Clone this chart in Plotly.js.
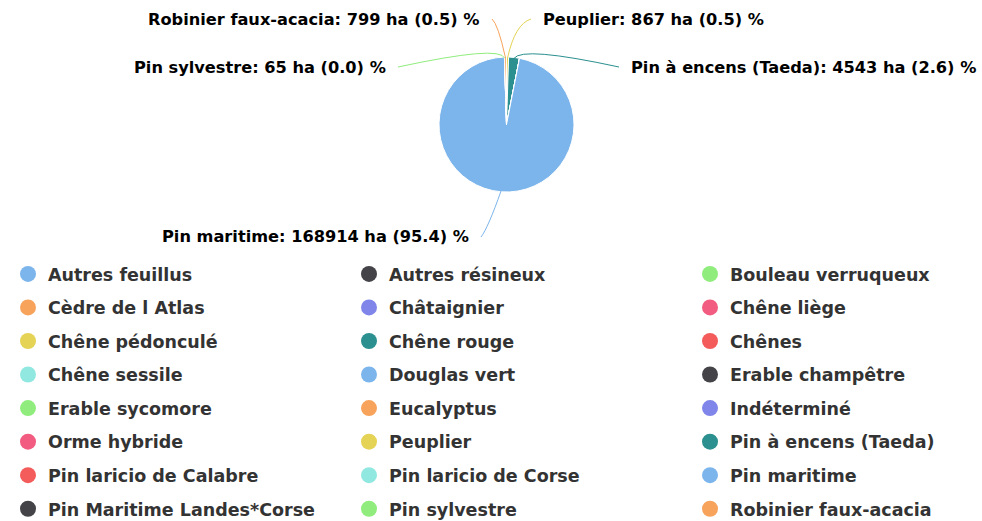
<!DOCTYPE html>
<html>
<head>
<meta charset="utf-8">
<script src="https://cdn.plot.ly/plotly-3.0.1.min.js"></script>
<style>
  html, body { margin: 0; padding: 0; background: #fff; }
  #chart { width: 982px; height: 521px; }
</style>
</head>
<body>
<div id="chart"></div>
<script>
// Species (legend order, row by row)
const species = [
  "Autres feuillus", "Autres résineux", "Bouleau verruqueux",
  "Cèdre de l Atlas", "Châtaignier", "Chêne liège",
  "Chêne pédonculé", "Chêne rouge", "Chênes",
  "Chêne sessile", "Douglas vert", "Erable champêtre",
  "Erable sycomore", "Eucalyptus", "Indéterminé",
  "Orme hybride", "Peuplier", "Pin à encens (Taeda)",
  "Pin laricio de Calabre", "Pin laricio de Corse", "Pin maritime",
  "Pin Maritime Landes*Corse", "Pin sylvestre", "Robinier faux-acacia",
];

// Surface in ha (only labelled slices are readable)
const hectares = [
  0, 0, 0,
  0, 0, 0,
  0, 0, 0,
  0, 0, 0,
  0, 0, 0,
  0, 867, 4543,
  0, 0, 168914,
  0, 65, 799,
];

// Percent shown in the labels
const shares = [
  null, null, null,
  null, null, null,
  null, null, null,
  null, null, null,
  null, null, null,
  null, "0.5", "2.6",
  null, null, "95.4",
  null, "0.0", "0.5",
];

const palette = ["#7cb5ec", "#434348", "#90ed7d", "#f7a35c", "#8085e9",
                 "#f15c80", "#e4d354", "#2b908f", "#f45b5b", "#91e8e1"];
const colors = species.map((s, i) => palette[i % palette.length]);

// Geometry of the chart (pixels)
const W = 982, H = 521;
const cx = 506.5, cy = 124.5, r = 66.5;
const px = x => x / W;
const py = y => 1 - y / H;

// Where each label sits: [text x, text y, anchor, knee x, knee y]
const labelPos = {
  16: [541, 19, "left", 515, 24],
  17: [629, 67, "left", 522, 46],
  20: [471, 237, "right", 488, 228],
  22: [388, 67, "right", 500, 45],
  23: [482, 19, "right", 498, 24],
};

const fontFamily = "'DejaVu Sans', Verdana, sans-serif";

// Pie slices
const pieTrace = {
  type: "pie",
  labels: species,
  values: hectares,
  marker: { colors: colors, line: { color: "#ffffff", width: 1 } },
  sort: false,
  direction: "clockwise",
  rotation: 0,
  textinfo: "none",
  hovertemplate: "%{label}: %{value} ha<extra></extra>",
  showlegend: false,
  domain: { x: [px(cx - r - 1), px(cx + r + 1)], y: [py(cy + r + 1), py(cy - r - 1)] },
  automargin: false,
};

// Legend entries drawn as round markers, 3 columns
const legendNames = ["legend", "legend2", "legend3"];
const legendTraces = species.map((s, i) => ({
  type: "scatter",
  mode: "markers",
  x: [null],
  y: [null],
  name: s,
  legend: legendNames[i % 3],
  legendgroup: "g" + i,
  marker: { color: colors[i], size: 16, symbol: "circle" },
  hoverinfo: "skip",
}));

// Labels and connectors from the slice angles
const total = hectares.reduce((a, b) => a + b, 0);
const annotations = [];
const shapes = [];
let cum = 0;
hectares.forEach((v, i) => {
  const start = cum;
  cum += v;
  if (!v || !labelPos[i]) return;
  const mid = ((start + cum) / 2 / total) * 2 * Math.PI;
  const tipX = cx + r * Math.sin(mid);
  const tipY = cy - r * Math.cos(mid);
  const [tx, ty, anchor, kx, ky] = labelPos[i];
  annotations.push({
    xref: "paper", yref: "paper",
    x: px(tx), y: py(ty),
    xanchor: anchor, yanchor: "middle",
    showarrow: false,
    text: species[i] + ": " + v + " ha (" + shares[i] + ") %",
    font: { family: fontFamily, size: 16.2, color: "#000000", weight: "bold" },
  });
  const startX = anchor === "left" ? tx - 10 : tx + 10;
  shapes.push({
    type: "path",
    xref: "paper", yref: "paper",
    path: "M " + px(startX) + " " + py(ty) +
          " Q " + px(kx) + " " + py(ky) + " " + px(tipX) + " " + py(tipY),
    line: { color: colors[i], width: 1 },
  });
});

const legendBase = {
  orientation: "v",
  xanchor: "left",
  yanchor: "top",
  y: py(256),
  bgcolor: "rgba(0,0,0,0)",
  tracegroupgap: 7.8,
  font: { family: fontFamily, size: 17.5, color: "#333333", weight: "bold" },
};

const layout = {
  width: W,
  height: H,
  margin: { l: 0, r: 0, t: 0, b: 0, autoexpand: false },
  paper_bgcolor: "#ffffff",
  plot_bgcolor: "#ffffff",
  showlegend: true,
  xaxis: { visible: false },
  yaxis: { visible: false },
  legend: Object.assign({}, legendBase, { x: px(8) }),
  legend2: Object.assign({}, legendBase, { x: px(349) }),
  legend3: Object.assign({}, legendBase, { x: px(690) }),
  annotations: annotations,
  shapes: shapes,
};

Plotly.newPlot("chart", [pieTrace].concat(legendTraces), layout, { displayModeBar: false });
</script>
</body>
</html>
